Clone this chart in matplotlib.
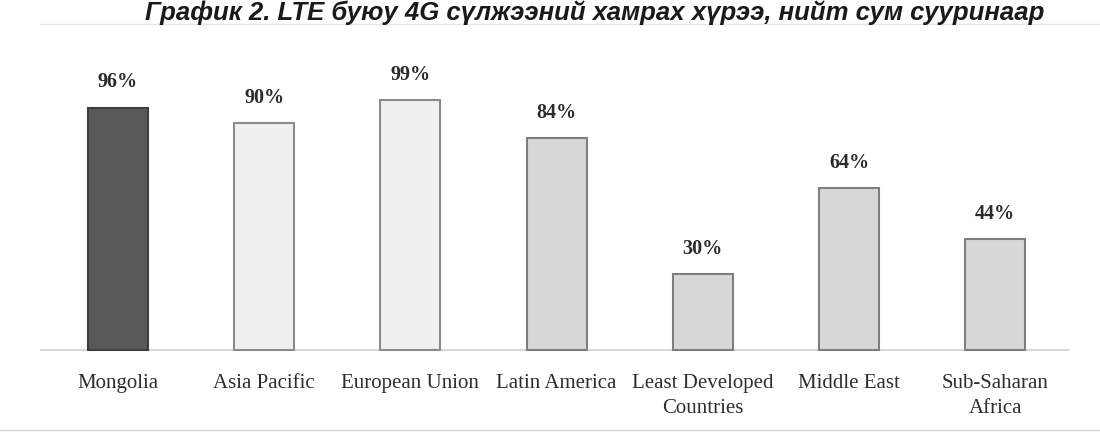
import matplotlib
matplotlib.use("Agg")
import matplotlib.pyplot as plt
import numpy as np

# Data
regions = ["Mongolia", "Asia Pacific", "European Union", "Latin America",
           "Least Developed\nCountries", "Middle East", "Sub-Saharan\nAfrica"]
coverage = [96, 90, 99, 84, 30, 64, 44]
title = "График 2. LTE буюу 4G сүлжээний хамрах хүрээ, нийт сум сууринаар"

fills = ["#595959", "#f0f0f0", "#f0f0f0", "#d8d8d8", "#d8d8d8", "#d8d8d8", "#d8d8d8"]
edges = ["#3e3e3e", "#8c8c8c", "#8c8c8c", "#7f7f7f", "#7f7f7f", "#7f7f7f", "#7f7f7f"]

W, H = 1100, 436
fig = plt.figure(figsize=(W / 100, H / 100), dpi=100)

# axes spans the whole figure; limits chosen so bar centres land where the scan has them
x0_px, step_px = 118, 146.2
base_px, px_per_pct = 350, 2.525
ax = fig.add_axes([0, 0, 1, 1])
ax.set_xlim(-x0_px / step_px, (W - x0_px) / step_px)
ax.set_ylim(-(H - base_px) / px_per_pct, base_px / px_per_pct)
ax.axis("off")

x = np.arange(len(regions))
ax.bar(x, coverage, width=0.41, color=fills, edgecolor=edges, linewidth=1.5, zorder=3)

# faint baseline
ax.plot([-0.53, 6.5], [0, 0], color="#cfcfcf", lw=1.2, zorder=2)

serif = ["Liberation Serif", "DejaVu Serif"]
for xi, v in zip(x, coverage):
    ax.text(xi, v + 6.0, f"{v}%", ha="center", va="bottom", fontsize=14.5,
            family=serif, color="#2b2b2b", fontweight="bold")

for xi, name in zip(x, regions):
    ax.text(xi, -9.5, name, ha="center", va="top", fontsize=15,
            family=serif, color="#2e2e2e", linespacing=1.45)

# title from the page above, sitting at the very top edge
fig.text(145 / W, 1 - 20 / H, title, ha="left", va="baseline", fontsize=18.5,
         family=["Liberation Sans", "DejaVu Sans"], fontweight="bold",
         fontstyle="italic", color="#1a1a1a")

# page edge lines from the scan
fig.add_artist(plt.Line2D([0, 1], [1 - 430 / H] * 2, color="#d5d5d5", lw=1))
fig.add_artist(plt.Line2D([40 / W, 1], [1 - 24 / H] * 2, color="#e8e8e8", lw=1))

fig.savefig("out.png", dpi=100, facecolor="white")
